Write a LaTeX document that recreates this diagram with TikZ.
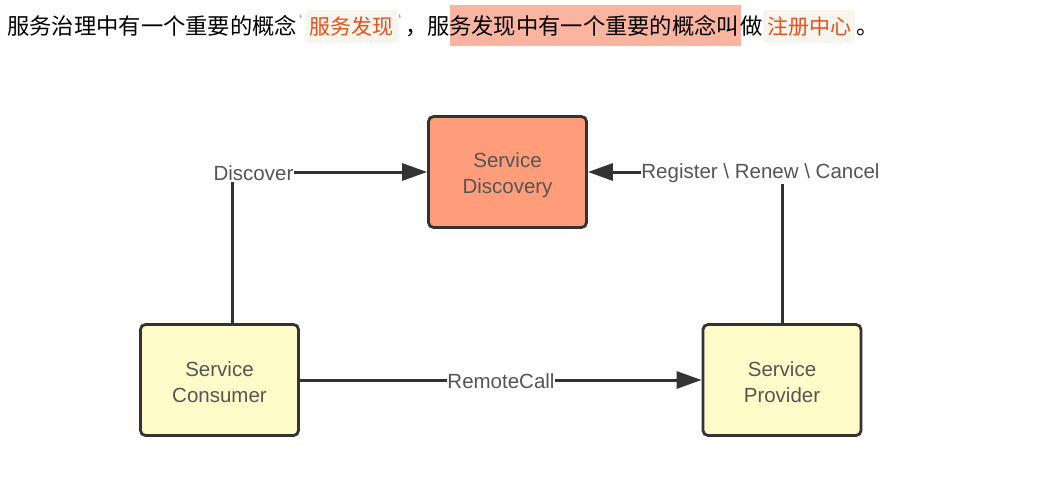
\documentclass[tikz,border=0pt]{standalone}
\usepackage{fontspec}
\setmainfont{Liberation Sans}
\newfontfamily\cjk{Noto Sans CJK SC}
\usetikzlibrary{arrows.meta}
\definecolor{linec}{HTML}{333333}
\definecolor{txtc}{HTML}{555555}
\definecolor{sdfill}{HTML}{FF9D7A}
\definecolor{yfill}{HTML}{FFFCCA}
\definecolor{hlfill}{HTML}{FBB4A0}
\definecolor{codebg}{HTML}{F8F5EE}
\definecolor{codefg}{HTML}{E5511D}
\definecolor{tickc}{HTML}{999999}
\tikzset{
  box/.style={draw=linec, line width=2.8pt, rounded corners=5pt, minimum width=158pt, minimum height=111pt, inner sep=0pt},
  boxtxt/.style={align=center, text=txtc, font=\fontsize{20.5}{26}\selectfont, inner sep=0pt},
  conn/.style={draw=linec, line width=3pt},
  arr/.style={-{Triangle[length=25pt,width=17pt]}},
  lbl/.style={fill=white, text=txtc, inner sep=0.5pt, font=\fontsize{20.5}{24}\selectfont},
  cjktxt/.style={anchor=base west, inner sep=0pt, font=\cjk\fontsize{22.3}{26}\selectfont, text=black},
  codetxt/.style={anchor=base west, inner sep=0pt, font=\cjk\fontsize{21}{26}\selectfont, text=codefg},
  tick/.style={inner sep=0pt, text=tickc, font=\fontsize{16}{16}\selectfont},
  codebox/.style={fill=codebg, rounded corners=3pt},
}
\begin{document}
\begin{tikzpicture}[x=1pt,y=-1pt]
\useasboundingbox (0,0) rectangle (1059,479);
% top line of text
\fill[codebox] (306,10) rectangle (398,43);
\fill[codebox] (763,10) rectangle (855,43);
\fill[hlfill] (450,5) rectangle (741,46);
\node[cjktxt] (t1) at (7,34) {服务治理中有一个重要的概念};
\node[tick] (k1) at (301,20) {\symbol{96}};
\node[codetxt] (c1) at (309,34) {服务发现};
\node[tick] (k2) at (400,20) {\symbol{96}};
\node[cjktxt] (t2) at (405,34) {，服};
\node[cjktxt] (t3) at (449,34) {务发现中有一个重要的概念叫};
\node[cjktxt] (t4) at (740,34) {做};
\node[codetxt] (c2) at (767,34) {注册中心};
\node[cjktxt] (t5) at (856,34) {。};
% diagram
\node[box, fill=sdfill] (sd) at (507.5,172) {};
\node[box, fill=yfill] (cons) at (219.5,380) {};
\node[box, fill=yfill] (prov) at (782,380) {};
\node[boxtxt] (sdt) at ([yshift=-3.5pt]sd.center) {Service\\Discovery};
\node[boxtxt] (const) at ([yshift=-2.5pt]cons.center) {Service\\Consumer};
\node[boxtxt] (provt) at ([yshift=-2.5pt]prov.center) {Service\\Provider};
\draw[conn, arr] ([xshift=12.5pt]cons.north) |- (sd.west);
\draw[conn, arr] (prov.north) |- (sd.east);
\draw[conn, arr] (cons.east) -- (prov.west);
\node[lbl] (ldisc) at (253.5,173.5) {Discover};
\node[lbl] (lreg) at (760.5,173.5) {Register \textbackslash{} Renew \textbackslash{} Cancel};
\node[lbl] (lrc) at (501,381) {RemoteCall};
\end{tikzpicture}
\end{document}
